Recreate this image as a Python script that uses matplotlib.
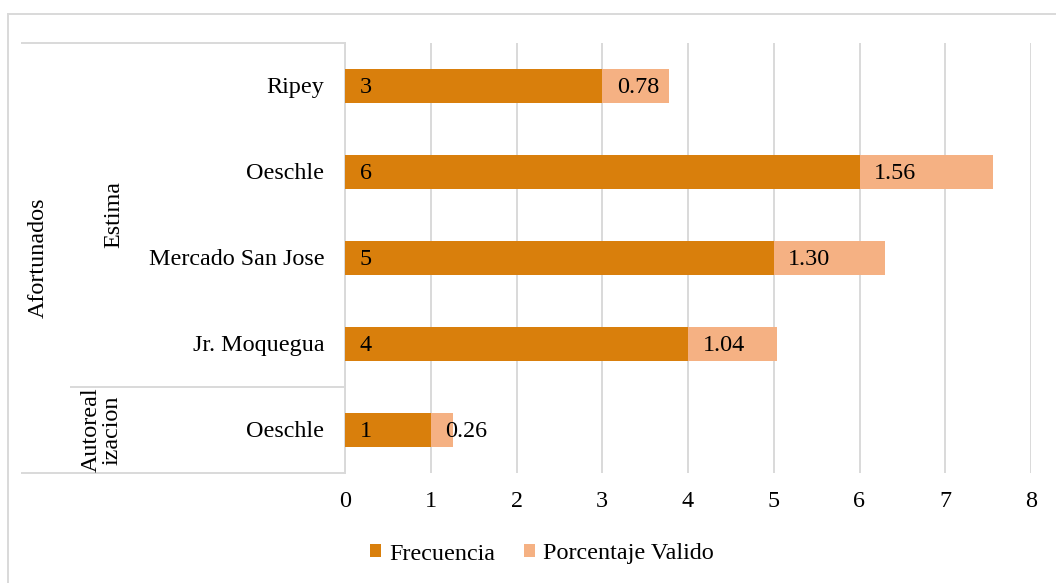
import matplotlib.pyplot as plt
from matplotlib.lines import Line2D

plt.rcParams['font.family'] = ['Liberation Serif', 'DejaVu Serif']

# data, top to bottom as in the chart
tiendas = ['Ripey', 'Oeschle', 'Mercado San Jose', 'Jr. Moquegua', 'Oeschle']
frecuencia = [3, 6, 5, 4, 1]
porcentaje = [0.78, 1.56, 1.30, 1.04, 0.26]
grupo_top = 'Afortunados'
subgrupos = ['Estima', 'Autoreal\nizacion']
subgrupo_n = [4, 1]

c_frec = '#D97F0C'
c_porc = '#F5B183'
c_grid = '#D9D9D9'
fs = 17.4

W, H = 1056, 583
fig = plt.figure(figsize=(W / 100, H / 100), dpi=100)
ax = fig.add_axes([345 / W, 1 - 473 / H, (1031 - 345) / W, (473 - 43) / H])

y = list(range(len(tiendas)))
b1 = ax.barh(y, frecuencia, height=0.4, color=c_frec, label='Frecuencia', zorder=3)
b2 = ax.barh(y, porcentaje, left=frecuencia, height=0.4, color=c_porc,
             label='Porcentaje Valido', zorder=3)

for i in y:
    ax.annotate(str(frecuencia[i]), (0, i), xytext=(10.5, -1), textcoords='offset points',
                ha='left', va='center', fontsize=fs, zorder=4)
    ax.annotate('%.2f' % porcentaje[i], (frecuencia[i], i), xytext=(10.5, -1),
                textcoords='offset points', ha='left', va='center', fontsize=fs, zorder=4)

ax.set_xlim(0, 8)
ax.set_ylim(len(tiendas) - 0.5, -0.5)
ax.set_xticks(range(0, 9))
ax.set_yticks([])
ax.tick_params(axis='x', length=0, pad=13, labelsize=fs)
ax.grid(axis='x', color=c_grid, linewidth=1.4, zorder=0)
for s in ['top', 'right', 'bottom']:
    ax.spines[s].set_visible(False)
ax.spines['left'].set_color(c_grid)
ax.spines['left'].set_linewidth(1.4)

# multi-level category labels
def fx(px):
    return px / W

def fy(py):
    return 1 - py / H

for i, t in enumerate(tiendas):
    ax.annotate(t, (0, i), xytext=(-15, -1), textcoords='offset points',
                ha='right', va='center', fontsize=fs, annotation_clip=False)

lw = 1.4
fig.add_artist(Line2D([fx(22), fx(345)], [fy(43), fy(43)], color=c_grid, lw=lw))
fig.add_artist(Line2D([fx(22), fx(345)], [fy(473), fy(473)], color=c_grid, lw=lw))
fig.add_artist(Line2D([fx(71), fx(345)], [fy(387), fy(387)], color=c_grid, lw=lw))

fig.text(fx(38), fy(258), grupo_top, rotation=90, ha='center', va='center', fontsize=fs)
fig.text(fx(114), fy(214), subgrupos[0], rotation=90, ha='center', va='center', fontsize=fs)
fig.text(fx(102), fy(430), subgrupos[1], rotation=90, ha='center', va='center',
         fontsize=fs, multialignment='center', linespacing=1.0)

# outer chart border
fig.add_artist(Line2D([fx(8), 1.0], [fy(14), fy(14)], color=c_grid, lw=lw))
fig.add_artist(Line2D([fx(8), fx(8)], [fy(14), 0.0], color=c_grid, lw=lw))

fig.legend(handles=[b1, b2], loc='center', bbox_to_anchor=(fx(542), fy(554)), ncol=2,
           frameon=False, fontsize=fs, handlelength=0.45, handleheight=0.45,
           handletextpad=0.35, columnspacing=1.2)

fig.savefig('out.png', dpi=100)
